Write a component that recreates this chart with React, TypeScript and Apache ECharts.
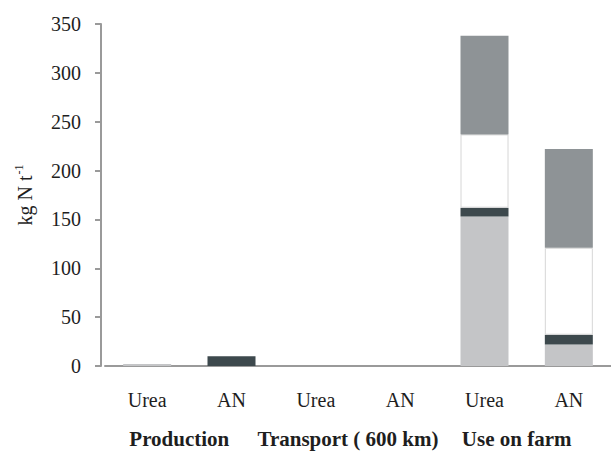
import React, { useEffect, useRef } from "react";
import * as echarts from "echarts";

const categories = ["Urea", "AN", "Urea", "AN", "Urea", "AN"];
const groups = ["Production", "Transport ( 600 km)", "Use on farm"];
const lightPart = [2, null, null, null, 153, 22];
const darkPart = [null, 10, null, null, 9, 10];
const whitePart = [null, null, null, null, 75, 89];
const greyPart = [null, null, null, null, 101, 101];

const FONT = "Liberation Serif";

export default function App() {
  const ref = useRef<HTMLDivElement>(null);
  useEffect(() => {
    if (!ref.current) return;
    const chart = echarts.init(ref.current, undefined, { renderer: "svg" });
    const common = { type: "bar", stack: "s", barWidth: 48, xAxisIndex: 0 };
    chart.setOption({
      animation: false,
      textStyle: { fontFamily: FONT },
      grid: { left: 105, right: 0, top: 24, bottom: 85 },
      xAxis: [
        {
          type: "category",
          data: categories,
          axisLine: { show: true, lineStyle: { color: "#9a9a9a", width: 2 } },
          axisTick: { show: false },
          axisLabel: { interval: 0, margin: 24, fontSize: 20, color: "#1e1e1e", fontFamily: FONT },
        },
        {
          type: "category",
          data: groups,
          position: "bottom",
          offset: 38,
          axisLine: { show: false },
          axisTick: { show: false },
          axisLabel: {
            interval: 0,
            hideOverlap: false,
            margin: 24,
            fontSize: 21,
            fontWeight: "bold",
            color: "#1e1e1e",
            fontFamily: FONT,
            padding: [0, 20, 0, 0],
          },
        },
      ],
      yAxis: {
        type: "value",
        min: 0,
        max: 350,
        interval: 50,
        offset: 4,
        splitLine: { show: false },
        axisLine: { show: true, lineStyle: { color: "#9a9a9a", width: 2 } },
        axisTick: { show: true, length: 6, lineStyle: { color: "#9a9a9a", width: 2 } },
        axisLabel: { margin: 20, fontSize: 20, color: "#1e1e1e", fontFamily: FONT },
        name: "{a|kg N t}{s|-1}",
        nameLocation: "middle",
        nameGap: 66,
        nameRotate: 90,
        nameTextStyle: {
          rich: {
            a: { fontSize: 20, color: "#1e1e1e", fontFamily: FONT, verticalAlign: "bottom" },
            s: { fontSize: 12, color: "#1e1e1e", fontFamily: FONT, verticalAlign: "top", padding: [0, 0, 10, 1] },
          },
        },
      },
      series: [
        { ...common, name: "light", data: lightPart, itemStyle: { color: "#c4c5c7" } },
        { ...common, name: "dark", data: darkPart, itemStyle: { color: "#3d494d" } },
        {
          ...common,
          name: "white",
          data: whitePart,
          itemStyle: { color: "#ffffff", borderColor: "#d6d6d6", borderWidth: 1 },
        },
        { ...common, name: "grey", data: greyPart, itemStyle: { color: "#8e9396" } },
      ],
    });
    return () => chart.dispose();
  }, []);
  return <div ref={ref} style={{ width: 611, height: 451, position: "absolute", left: 0, top: 0, background: "#fff" }} />;
}
